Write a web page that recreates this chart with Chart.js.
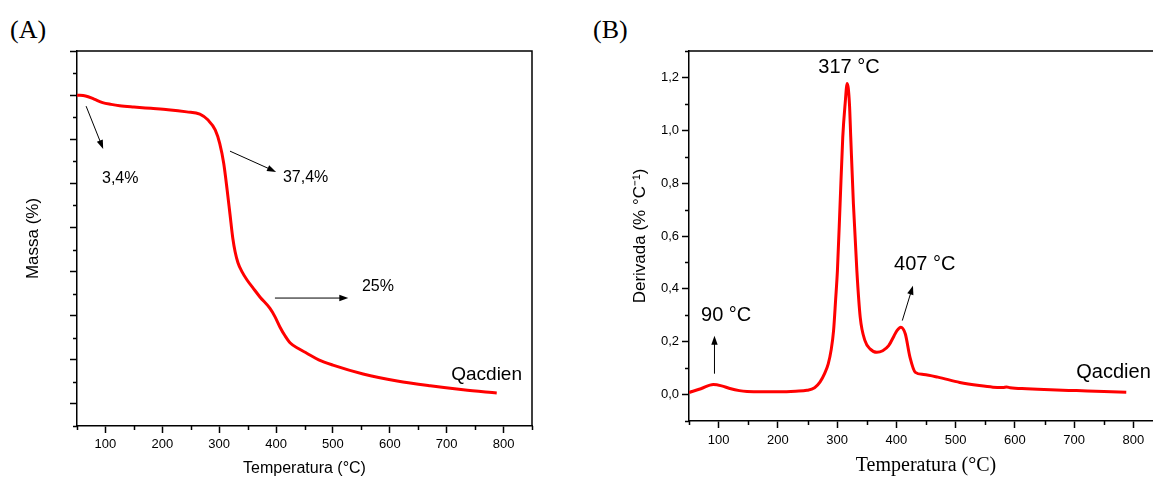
<!DOCTYPE html>
<html>
<head>
<meta charset="utf-8">
<script src="https://cdn.jsdelivr.net/npm/chart.js@4.4.1/dist/chart.umd.min.js"></script>
<style>
  html, body { margin: 0; padding: 0; background: #fff; overflow: hidden; width: 1153px; height: 478px; }
  canvas { position: absolute; top: 0; }
  .tag { position: absolute; top: 15px; font-family: "Liberation Serif", "Times New Roman", serif; font-size: 26px; line-height: 30px; color: #000; }
</style>
</head>
<body>
<div class="tag" style="left: 10px">(A)</div>
<div class="tag" style="left: 593px">(B)</div>
<canvas id="tgaChart" width="560" height="478" style="left: 0; width: 560px; height: 478px"></canvas>
<canvas id="dtgChart" width="620" height="478" style="left: 560px; width: 620px; height: 478px"></canvas>
<script>
const sans = "'Liberation Sans', Arial, sans-serif";
const serif = "'Liberation Serif', 'Times New Roman', serif";

// (A) TGA curve: temperature (°C) vs mass (%)
const tgaTemp = [50, 65, 80, 95, 110, 125, 150, 180, 210, 243, 266, 280, 293, 301, 308, 314, 319, 324, 328, 333, 340, 349, 360, 372, 389, 398, 407, 416, 425, 440, 454, 475, 500, 553, 613, 671, 729, 788];
const tgaMass = [100, 99.8, 99.1, 98.3, 97.9, 97.6, 97.3, 97.0, 96.7, 96.2, 95.7, 94.4, 92.1, 89.0, 84.5, 78.5, 73.0, 67.5, 64.5, 62.0, 60.0, 58.1, 56.2, 54.2, 51.7, 49.8, 47.4, 45.4, 43.8, 42.5, 41.5, 40.0, 38.8, 36.8, 35.2, 34.1, 33.2, 32.5];

// (B) DTG curve: temperature (°C) vs derivative (% °C-1)
const dtgTemp = [50, 70, 91, 105, 119, 135, 148, 175, 203, 230, 249, 262, 271, 279, 285, 290, 294, 297.5, 300.5, 305, 309.5, 313.5, 317, 320.8, 323, 327.5, 333.3, 339, 347, 356, 367, 377, 387, 396, 401, 407.5, 415, 423, 432, 446, 470, 507, 540, 563, 580, 586, 592, 620, 660, 704, 750, 788];
const dtgRate = [0.008, 0.022, 0.038, 0.033, 0.023, 0.015, 0.012, 0.011, 0.011, 0.013, 0.016, 0.026, 0.047, 0.08, 0.116, 0.17, 0.242, 0.36, 0.469, 0.721, 0.973, 1.1, 1.177, 1.1, 0.973, 0.721, 0.469, 0.292, 0.204, 0.172, 0.16, 0.166, 0.185, 0.222, 0.242, 0.255, 0.23, 0.141, 0.084, 0.076, 0.066, 0.046, 0.034, 0.028, 0.027, 0.029, 0.026, 0.022, 0.018, 0.015, 0.012, 0.009];

// annotations, anchored in data units
const tgaArrows = [
  { from: [66, 97.5], to: [96, 87.8] },
  { from: [319, 87.3], to: [400, 82.6] },
  { from: [398, 54], to: [527, 54] },
];
const tgaLabels = [
  { text: "3,4%", at: [94, 81], size: 16, align: "left" },
  { text: "37,4%", at: [412, 81.4], size: 16, align: "left" },
  { text: "25%", at: [551, 56.7], size: 16, align: "left" },
  { text: "Qacdien", at: [708, 36.6], size: 19, align: "left" },
];
const dtgArrows = [
  { from: [93, 0.079], to: [93, 0.223] },
  { from: [410, 0.28], to: [428, 0.412] },
];
const dtgLabels = [
  { text: "317 °C", at: [320, 1.237], size: 20, align: "center" },
  { text: "90 °C", at: [70.3, 0.299], size: 20, align: "left" },
  { text: "407 °C", at: [396, 0.492], size: 20, align: "left" },
  { text: "Qacdien", at: [703.7, 0.083], size: 20, align: "left" },
];

function isMajor(value, step) {
  const r = value / step;
  return Math.abs(r - Math.round(r)) < 1e-6;
}

function drawArrow(ctx, x1, y1, x2, y2) {
  const ang = Math.atan2(y2 - y1, x2 - x1);
  const head = 9;
  const half = 3.2;
  const c = Math.cos(ang);
  const s = Math.sin(ang);
  ctx.beginPath();
  ctx.moveTo(x1, y1);
  ctx.lineTo(x2 - head * c * 0.7, y2 - head * s * 0.7);
  ctx.stroke();
  ctx.beginPath();
  ctx.moveTo(x2, y2);
  ctx.lineTo(x2 - head * c + half * s, y2 - head * s - half * c);
  ctx.lineTo(x2 - head * c - half * s, y2 - head * s + half * c);
  ctx.closePath();
  ctx.fill();
}

// frame, minor ticks, arrows and notes
function makeExtras(arrows, labels, majorX, majorY) {
  return {
    id: "extras",
    afterDraw(chart) {
      const { ctx, chartArea: area } = chart;
      const x = chart.scales.x;
      const y = chart.scales.y;
      ctx.save();
      ctx.strokeStyle = "#000";
      ctx.fillStyle = "#000";
      ctx.lineWidth = 1.5;
      ctx.beginPath();
      ctx.moveTo(area.left, area.top);
      ctx.lineTo(area.right, area.top);
      ctx.lineTo(area.right, area.bottom);
      ctx.stroke();

      ctx.beginPath();
      x.ticks.forEach((t) => {
        if (isMajor(t.value, majorX)) return;
        const px = Math.round(x.getPixelForValue(t.value)) + 0.5;
        ctx.moveTo(px, area.bottom);
        ctx.lineTo(px, area.bottom + 4);
      });
      y.ticks.forEach((t) => {
        if (isMajor(t.value, majorY)) return;
        const py = Math.round(y.getPixelForValue(t.value)) + 0.5;
        ctx.moveTo(area.left - 4, py);
        ctx.lineTo(area.left, py);
      });
      ctx.stroke();

      ctx.lineWidth = 1;
      arrows.forEach((a) => {
        drawArrow(
          ctx,
          x.getPixelForValue(a.from[0]), y.getPixelForValue(a.from[1]),
          x.getPixelForValue(a.to[0]), y.getPixelForValue(a.to[1])
        );
      });

      ctx.textBaseline = "middle";
      labels.forEach((l) => {
        ctx.font = l.size + "px " + sans;
        ctx.textAlign = l.align;
        ctx.fillText(l.text, x.getPixelForValue(l.at[0]), y.getPixelForValue(l.at[1]));
      });
      ctx.restore();
    },
  };
}

function points(xs, ys) {
  return xs.map((v, i) => ({ x: v, y: ys[i] }));
}

function curve(data) {
  return {
    data: data,
    borderColor: "#ff0000",
    borderWidth: 3,
    pointRadius: 0,
    fill: false,
    cubicInterpolationMode: "monotone",
  };
}

function tickColor(step) {
  return (c) => (c.tick && isMajor(c.tick.value, step) ? "#000" : "rgba(0,0,0,0)");
}

function createTga() {
  new Chart(document.getElementById("tgaChart"), {
    type: "line",
    data: { datasets: [curve(points(tgaTemp, tgaMass))] },
    options: {
      responsive: false,
      animation: false,
      layout: { padding: { left: 0, top: 51, right: 28, bottom: 0 } },
      plugins: { legend: { display: false }, tooltip: { enabled: false } },
      scales: {
        x: {
          type: "linear",
          min: 50,
          max: 850,
          afterFit: (s) => { s.height = 52; },
          border: { color: "#000", width: 1.5 },
          grid: { drawOnChartArea: false, tickLength: 7, tickWidth: 1.5, tickColor: tickColor(100) },
          ticks: {
            stepSize: 50,
            autoSkip: false,
            maxRotation: 0,
            padding: 4,
            color: "#000",
            font: { family: sans, size: 13 },
            callback: (v) => (isMajor(v, 100) ? String(v) : ""),
          },
          title: {
            display: true,
            text: "Temperatura (°C)",
            color: "#000",
            font: { family: sans, size: 16 },
            padding: { top: 0, bottom: 0 },
          },
        },
        y: {
          type: "linear",
          min: 25,
          max: 110,
          afterFit: (s) => { s.width = 77; },
          border: { color: "#000", width: 1.5 },
          grid: { drawOnChartArea: false, tickLength: 7, tickWidth: 1.5, tickColor: tickColor(10) },
          ticks: { stepSize: 5, autoSkip: false, callback: () => "" },
          title: {
            display: true,
            text: "Massa (%)",
            color: "#000",
            font: { family: sans, size: 17 },
            padding: { top: 23, bottom: 0 },
          },
        },
      },
    },
    plugins: [makeExtras(tgaArrows, tgaLabels, 100, 10)],
  });
}

function createDtg() {
  new Chart(document.getElementById("dtgChart"), {
    type: "line",
    data: { datasets: [curve(points(dtgTemp, dtgRate))] },
    options: {
      responsive: false,
      animation: false,
      layout: { padding: { left: 0, top: 51, right: 17, bottom: 0 } },
      plugins: { legend: { display: false }, tooltip: { enabled: false } },
      scales: {
        x: {
          type: "linear",
          min: 50,
          max: 850,
          afterFit: (s) => { s.height = 57; },
          border: { color: "#000", width: 1.5 },
          grid: { drawOnChartArea: false, tickLength: 7, tickWidth: 1.5, tickColor: tickColor(100) },
          ticks: {
            stepSize: 50,
            autoSkip: false,
            maxRotation: 0,
            padding: 5,
            color: "#000",
            font: { family: sans, size: 13 },
            callback: (v) => (isMajor(v, 100) ? String(v) : ""),
          },
          title: {
            display: true,
            text: "Temperatura (°C)",
            color: "#000",
            font: { family: serif, size: 20 },
            padding: { top: 0, bottom: 0 },
          },
        },
        y: {
          type: "linear",
          min: -0.1,
          max: 1.3,
          afterFit: (s) => { s.width = 129; },
          border: { color: "#000", width: 1.5 },
          grid: { drawOnChartArea: false, tickLength: 7, tickWidth: 1.5, tickColor: tickColor(0.2) },
          ticks: {
            stepSize: 0.1,
            autoSkip: false,
            padding: 3,
            color: "#000",
            font: { family: sans, size: 13 },
            callback: (v) => (isMajor(v, 0.2) ? v.toFixed(1).replace(".", ",") : ""),
          },
          title: {
            display: true,
            text: "Derivada (% °C⁻¹)",
            color: "#000",
            font: { family: sans, size: 17 },
            padding: { top: 70, bottom: 0 },
          },
        },
      },
    },
    plugins: [makeExtras(dtgArrows, dtgLabels, 100, 0.2)],
  });
}

createTga();
createDtg();
</script>
</body>
</html>
